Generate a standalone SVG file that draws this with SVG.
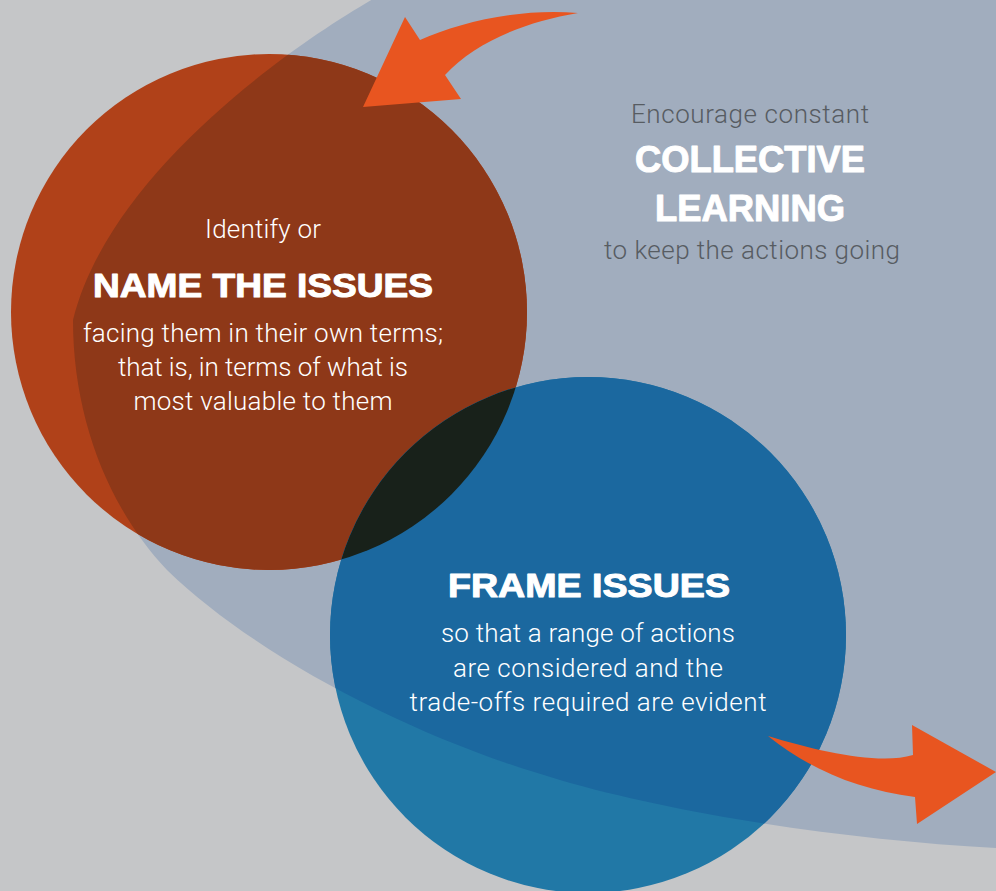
<svg xmlns="http://www.w3.org/2000/svg" xmlns:xlink="http://www.w3.org/1999/xlink" width="996" height="891" viewBox="0 0 996 891">
  <style>
    .light { font-family: Roboto, "Liberation Sans", sans-serif; font-weight: 300; text-anchor: middle; }
    .head { font-family: "Liberation Sans", Arial, sans-serif; font-weight: 700; text-anchor: middle; fill: #ffffff; stroke: #ffffff; stroke-width: 1; stroke-linejoin: round; }
    .white { fill: #ffffff; }
    .grey { fill: #575c62; }
    .arrow { fill: #e85520; }
  </style>
  <defs>
    <path id="loopShape" d="M380,-5 C300,40 110,170 73,320 C73,420 110,510 167,570 C260,660 420,740 560,780 C680,815 850,840 996,848 L1010,850 L1010,-5 Z"/>
    <circle id="orangeShape" cx="269" cy="312" r="258"/>
    <circle id="blueShape" cx="588" cy="635" r="258"/>
    <clipPath id="clipLoop"><use xlink:href="#loopShape"/></clipPath>
    <clipPath id="clipBlue"><use xlink:href="#blueShape"/></clipPath>
  </defs>

  <rect id="background" x="0" y="0" width="996" height="891" fill="#c5c6c8"/>

  <g id="collective-learning">
    <use xlink:href="#loopShape" fill="#a1adbe"/>
    <text class="light grey" x="750" y="123" font-size="26" textLength="238" lengthAdjust="spacing">Encourage constant</text>
    <text class="head" x="750" y="172" font-size="37" textLength="230" lengthAdjust="spacingAndGlyphs">COLLECTIVE</text>
    <text class="head" x="750" y="221" font-size="37" textLength="190" lengthAdjust="spacingAndGlyphs">LEARNING</text>
    <text class="light grey" x="752" y="259" font-size="26" textLength="296" lengthAdjust="spacing">to keep the actions going</text>
  </g>

  <g id="name-issues">
    <use xlink:href="#orangeShape" fill="#b04119"/>
    <use xlink:href="#orangeShape" fill="#8e3818" clip-path="url(#clipLoop)"/>
  </g>

  <g id="frame-issues">
    <use xlink:href="#blueShape" fill="#2178a6"/>
    <use xlink:href="#blueShape" fill="#1b689f" clip-path="url(#clipLoop)"/>
    <use xlink:href="#orangeShape" fill="#18211a" clip-path="url(#clipBlue)"/>
  </g>

  <g id="connectors">
    <path class="arrow" d="M405,17 L420,40 C460,22 520,8 578,13 C525,22 475,42 445,75 L461,99 L363,107 Z"/>
    <path class="arrow" d="M768,736 C820,752 880,765 913,755 L912,725 L996,772 L917,824 L915,797 C860,790 810,770 768,736 Z"/>
  </g>

  <g id="name-issues-text">
    <text class="light white" x="263" y="238" font-size="26" textLength="116" lengthAdjust="spacing">Identify or</text>
    <text class="head" x="263" y="297" font-size="33" textLength="340" lengthAdjust="spacingAndGlyphs">NAME THE ISSUES</text>
    <text class="light white" x="263" y="342" font-size="26" textLength="360" lengthAdjust="spacing">facing them in their own terms;</text>
    <text class="light white" x="263" y="376" font-size="26" textLength="290" lengthAdjust="spacing">that is, in terms of what is</text>
    <text class="light white" x="263" y="410" font-size="26" textLength="259" lengthAdjust="spacing">most valuable to them</text>
  </g>

  <g id="frame-issues-text">
    <text class="head" x="589" y="597" font-size="33" textLength="282" lengthAdjust="spacingAndGlyphs">FRAME ISSUES</text>
    <text class="light white" x="588" y="642" font-size="26" textLength="294" lengthAdjust="spacing">so that a range of actions</text>
    <text class="light white" x="588" y="677" font-size="26" textLength="270" lengthAdjust="spacing">are considered and the</text>
    <text class="light white" x="588" y="711" font-size="26" textLength="357" lengthAdjust="spacing">trade-offs required are evident</text>
  </g>
</svg>
